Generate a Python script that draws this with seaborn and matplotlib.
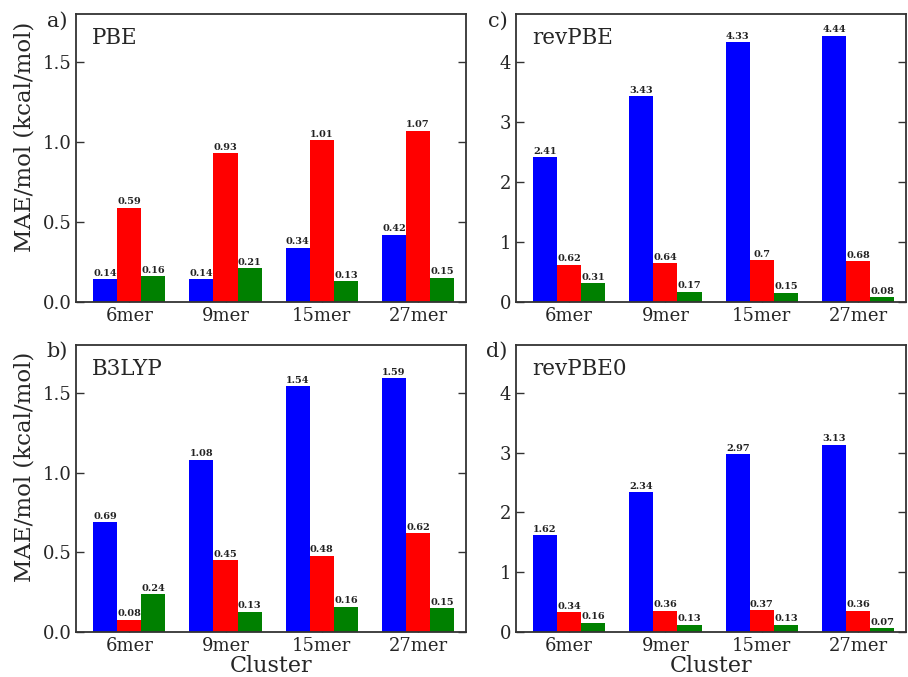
import pandas as pd
import seaborn as sns
import matplotlib.pyplot as plt

# cluster sizes and the three bar series per functional
clusters = ["6mer", "9mer", "15mer", "27mer"]
series = ["blue", "red", "green"]

pbe_blue = [0.14, 0.14, 0.34, 0.42]
pbe_red = [0.59, 0.93, 1.01, 1.07]
pbe_green = [0.16, 0.21, 0.13, 0.15]

revpbe_blue = [2.41, 3.43, 4.33, 4.44]
revpbe_red = [0.62, 0.64, 0.7, 0.68]
revpbe_green = [0.31, 0.17, 0.15, 0.08]

b3lyp_blue = [0.69, 1.08, 1.54, 1.59]
b3lyp_red = [0.08, 0.45, 0.48, 0.62]
b3lyp_green = [0.24, 0.13, 0.16, 0.15]

revpbe0_blue = [1.62, 2.34, 2.97, 3.13]
revpbe0_red = [0.34, 0.36, 0.37, 0.36]
revpbe0_green = [0.16, 0.13, 0.13, 0.07]

panels = [
    ("a)", "PBE", [pbe_blue, pbe_red, pbe_green], 1.8, [0, 0.5, 1.0, 1.5]),
    ("c)", "revPBE", [revpbe_blue, revpbe_red, revpbe_green], 4.8, [0, 1, 2, 3, 4]),
    ("b)", "B3LYP", [b3lyp_blue, b3lyp_red, b3lyp_green], 1.8, [0, 0.5, 1.0, 1.5]),
    ("d)", "revPBE0", [revpbe0_blue, revpbe0_red, revpbe0_green], 4.8, [0, 1, 2, 3, 4]),
]

sns.set_style("white")
plt.rcParams["font.family"] = ["DejaVu Serif"]

fig, axes = plt.subplots(2, 2, figsize=(9.08, 6.77), dpi=100)
fig.subplots_adjust(left=0.084, right=0.998, top=0.979, bottom=0.066,
                    wspace=0.128, hspace=0.149)

for ax, (letter, name, vals, ymax, yticks) in zip(axes.flat, panels):
    rows = []
    for s, v in zip(series, vals):
        for c, x in zip(clusters, v):
            rows.append({"Cluster": c, "series": s, "MAE": x})
    df = pd.DataFrame(rows)

    sns.barplot(data=df, x="Cluster", y="MAE", hue="series",
                palette=["blue", "red", "green"], width=0.75, saturation=1,
                legend=False, ax=ax, edgecolor="none")
    for cont in ax.containers:
        ax.bar_label(cont, fontsize=7, fontweight="bold", padding=1,
                     color="#222222")

    ax.set_xlim(-0.55, 3.5)
    ax.set_ylim(0, ymax)
    ax.set_yticks(yticks)
    ax.set_yticklabels([f"{t:g}" if ymax > 2 else f"{t:.1f}" for t in yticks])
    ax.tick_params(axis="both", direction="in", labelsize=13, length=6,
                   width=1, color="#333333")
    ax.tick_params(axis="y", right=True, left=True)
    ax.tick_params(axis="x", bottom=True, length=4)
    for sp in ax.spines.values():
        sp.set_color("#333333")
        sp.set_linewidth(1.3)

    ax.text(0.04, 0.955, name, transform=ax.transAxes, fontsize=15.5,
            va="top", ha="left")
    ax.text(-0.022, 1.01, letter, transform=ax.transAxes, fontsize=15,
            va="top", ha="right")
    ax.set_xlabel("")
    ax.set_ylabel("")

for ax in axes[:, 0]:
    ax.set_ylabel("MAE/mol (kcal/mol)", fontsize=16.5)
    ax.yaxis.set_label_coords(-0.105, 0.575)
axes[1, 0].set_xlabel("Cluster", fontsize=16, labelpad=0)
axes[1, 1].set_xlabel("Cluster", fontsize=16, labelpad=0)

plt.savefig("out.png")
